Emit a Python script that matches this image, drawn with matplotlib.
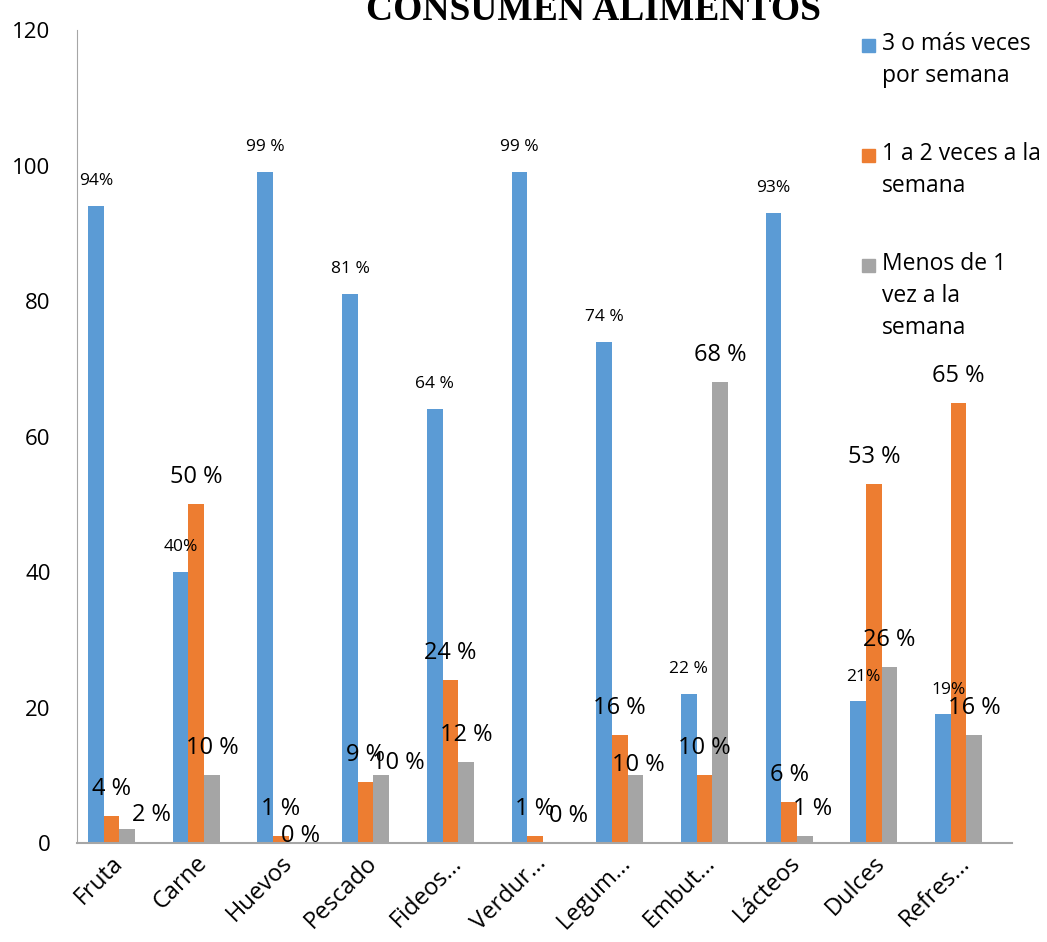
import numpy as np
import matplotlib
matplotlib.use('Agg')
import matplotlib.pyplot as plt
import matplotlib.transforms as mtransforms
from matplotlib.patches import Rectangle

categories = ['Fruta', 'Carne', 'Huevos', 'Pescado', 'Fideos...', 'Verdur...',
              'Legum...', 'Embut...', 'Lácteos', 'Dulces', 'Refres...']
series_names = ['3 o más veces\npor semana', '1 a 2 veces a la\nsemana',
                'Menos de 1\nvez a la\nsemana']
mas3 = [94, 40, 99, 81, 64, 99, 74, 22, 93, 21, 19]
de1a2 = [4, 50, 1, 9, 24, 1, 16, 10, 6, 53, 65]
menos1 = [2, 10, 0, 10, 12, 0, 10, 68, 1, 26, 16]
lab_mas3 = ['94%', '40%', '99 %', '81 %', '64 %', '99 %', '74 %', '22 %', '93%', '21%', '19%']
lab_de1a2 = ['4 %', '50 %', '1 %', '9 %', '24 %', '1 %', '16 %', '10 %', '6 %', '53 %', '65 %']
lab_menos1 = ['2 %', '10 %', '0 %', '10 %', '12 %', '0 %', '10 %', '68 %', '1 %', '26 %', '16 %']

colors = ['#5B9BD5', '#ED7D31', '#A5A5A5']
plt.rcParams['font.family'] = ['Open Sans', 'DejaVu Sans']

W, H = 1047, 942
fig = plt.figure(figsize=(W / 100, H / 100), dpi=100)
ax = fig.add_axes([77 / W, (H - 843) / H, (1012 - 77) / W, 813 / H])

x = np.arange(len(categories))
w = 0.185
data = [mas3, de1a2, menos1]
labels = [lab_mas3, lab_de1a2, lab_menos1]

# label offsets in pixels (dx, dy) from bar top, default per series
default_off = [(0, 25), (0, 27), (0, 27)]
special = {(0, 9): (5, 24), (0, 10): (6, 24),
           (2, 0): (24, 14), (2, 2): (4, 7), (2, 3): (17, 12),
           (2, 5): (18, 27), (2, 6): (3, 10), (2, 8): (8, 27)}
fsize = [12.5, 17, 17]

for s in range(3):
    xs = x + (s - 1) * w
    ax.bar(xs, data[s], width=w, color=colors[s], zorder=2)
    for i in range(len(categories)):
        dx, dy = special.get((s, i), default_off[s])
        ax.annotate(labels[s][i], (xs[i], data[s][i]),
                    xytext=(dx * 0.72, dy * 0.72), textcoords='offset points',
                    ha='center', va='center', fontsize=fsize[s], color='black')

ax.set_xlim(-0.407, 10.63)
ax.set_ylim(0, 120)
ax.set_yticks([0, 20, 40, 60, 80, 100, 120])
ax.tick_params(axis='y', length=0, pad=19, labelsize=16)
ax.tick_params(axis='x', length=0, pad=6)
ax.set_xticks(x)
ax.set_xticklabels(categories, rotation=45, ha='right', rotation_mode='anchor', fontsize=17)
off = mtransforms.ScaledTranslation(-1 / 100, 0, fig.dpi_scale_trans)
for t in ax.get_xticklabels():
    t.set_transform(t.get_transform() + off)

for sp in ['top', 'right']:
    ax.spines[sp].set_visible(False)
ax.spines['left'].set_color('#A6A6A6')
ax.spines['bottom'].set_color('#A6A6A6')
ax.spines['bottom'].set_linewidth(1.5)

fig.text(593 / W, 1 - 20 / H, 'CONSUMEN ALIMENTOS', ha='center', va='baseline',
         fontsize=27, fontweight='bold', family='Liberation Serif')

# legend drawn by hand so handles line up with the first text line
leg_y = [45, 155, 265]
for s in range(3):
    yc = leg_y[s]
    fig.patches.append(Rectangle((862 / W, 1 - (yc + 7) / H), 13 / W, 13 / H,
                                 transform=fig.transFigure, color=colors[s]))
    fig.text(882 / W, 1 - (yc - 13) / H, series_names[s], ha='left', va='top',
             fontsize=16.5, linespacing=1.45)

fig.savefig('out.png', dpi=100)
